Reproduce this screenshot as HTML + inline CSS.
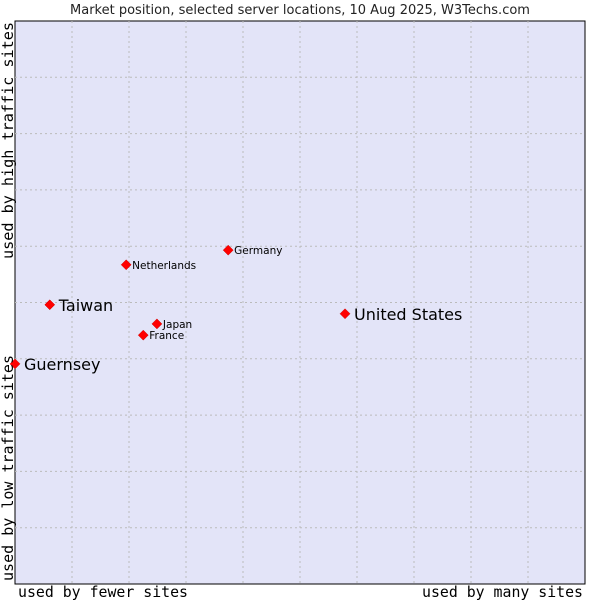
<!DOCTYPE html>
<html><head><meta charset="utf-8"><style>
body{margin:0;background:#fff;}
svg{display:block;font-family:"DejaVu Sans","Liberation Sans",sans-serif;}
.mono{font-family:"DejaVu Sans Mono","Liberation Mono",monospace;font-weight:500;}
</style></head><body>
<svg id="chart" width="600" height="600">
<text x="300" y="14" font-size="13" text-anchor="middle" fill="#222">Market position, selected server locations, 10 Aug 2025, W3Techs.com</text>
<rect x="15" y="21" width="570" height="563" fill="#e3e4f8" stroke="#000" stroke-width="1"/>
<g id="grid"></g>
<g id="points"></g>
<text class="mono" x="18" y="597" font-size="15" textLength="170" lengthAdjust="spacingAndGlyphs" fill="#000">used by fewer sites</text>
<text class="mono" x="422" y="597" font-size="15" textLength="161" lengthAdjust="spacingAndGlyphs" fill="#000">used by many sites</text>
<text class="mono" transform="translate(13,581) rotate(-90)" font-size="15" textLength="226" lengthAdjust="spacingAndGlyphs" fill="#000">used by low traffic sites</text>
<text class="mono" transform="translate(13,259) rotate(-90)" font-size="15" textLength="237" lengthAdjust="spacingAndGlyphs" fill="#000">used by high traffic sites</text>
</svg>
<script>
const names=["United States","Taiwan","Guernsey","Germany","Netherlands","Japan","France"];
const xVals=[57.9,6.1,0,37.4,19.5,24.9,22.5];
const yVals=[48.0,49.6,39.1,59.3,56.7,46.2,44.2];
const big=[true,true,true,false,false,false,false];
const L=15,R=585,T=21,B=584;
const sx=v=>L+v/100*(R-L);
const sy=v=>B-v/100*(B-T);
const NS="http://www.w3.org/2000/svg";
const grid=document.getElementById('grid');
for(let i=1;i<10;i++){
  const v=document.createElementNS(NS,'line');
  v.setAttribute('x1',sx(i*10));v.setAttribute('x2',sx(i*10));v.setAttribute('y1',T);v.setAttribute('y2',B);
  v.setAttribute('stroke','#bbb');v.setAttribute('stroke-dasharray','2,3');
  
  
  grid.appendChild(v);
  const h=document.createElementNS(NS,'line');
  h.setAttribute('y1',sy(i*10));h.setAttribute('y2',sy(i*10));h.setAttribute('x1',L);h.setAttribute('x2',R);
  h.setAttribute('stroke','#bbb');h.setAttribute('stroke-dasharray','2,3');
  
  
  grid.appendChild(h);
}
const pts=document.getElementById('points');
names.forEach((n,i)=>{
  const x=sx(xVals[i]),y=sy(yVals[i]);
  const d=document.createElementNS(NS,'path');
  d.setAttribute('d',`M${x} ${y-5}L${x+5} ${y}L${x} ${y+5}L${x-5} ${y}Z`);
  d.setAttribute('fill','#f00');d.setAttribute('stroke','#c00');d.setAttribute('stroke-width','0.5');
  
  
  pts.appendChild(d);
  const t=document.createElementNS(NS,'text');
  t.setAttribute('x',x+(big[i]?9:6));t.setAttribute('y',y+(big[i]?6:4));
  t.setAttribute('font-size',big[i]?16:10.5);t.setAttribute('fill','#000');
  t.textContent=n;
  
  
  pts.appendChild(t);
});
</script>
</body></html>
